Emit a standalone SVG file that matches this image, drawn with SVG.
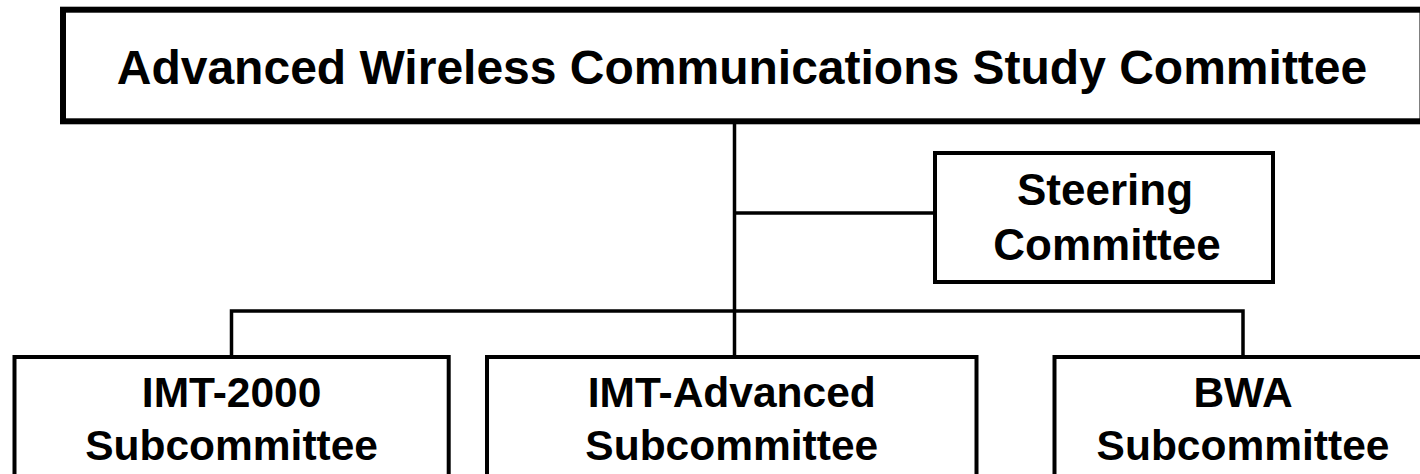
<svg xmlns="http://www.w3.org/2000/svg" width="1420" height="474" viewBox="0 0 1420 474">
  <style>
    .box { fill: #ffffff; stroke: #000000; stroke-width: 4; }
    .top { stroke-width: 6; }
    .lbl { font-family: "Liberation Sans", Arial, sans-serif; font-weight: bold; fill: #000000; text-anchor: middle; }
    .conn { stroke: #000000; stroke-width: 3.5; fill: none; }
  </style>
  <rect x="0" y="0" width="1420" height="474" fill="#ffffff"/>
  <g id="connectors">
    <line class="conn" x1="734.5" y1="122" x2="734.5" y2="357"/>
    <line class="conn" x1="734.5" y1="213" x2="935" y2="213"/>
    <polyline class="conn" points="231.5,357 231.5,311 1243,311 1243,357"/>
  </g>
  <g id="node-main">
    <rect class="box top" x="63" y="9.7" width="1359.5" height="111.6"/>
    <text class="lbl" x="742" y="83.5" font-size="48">Advanced Wireless Communications Study Committee</text>
  </g>
  <g id="node-steering">
    <rect class="box" x="935" y="153" width="338" height="129"/>
    <text class="lbl" x="1105" y="205" font-size="44">Steering</text>
    <text class="lbl" x="1107" y="260" font-size="44">Committee</text>
  </g>
  <g id="node-imt2000">
    <rect class="box" x="14.5" y="357" width="434.2" height="140"/>
    <text class="lbl" x="231.6" y="407.3" font-size="42.5">IMT-2000</text>
    <text class="lbl" x="231.6" y="460" font-size="42.5">Subcommittee</text>
  </g>
  <g id="node-imtadv">
    <rect class="box" x="487" y="357" width="489.5" height="140"/>
    <text class="lbl" x="731.75" y="407.3" font-size="42.5">IMT-Advanced</text>
    <text class="lbl" x="731.75" y="460" font-size="42.5">Subcommittee</text>
  </g>
  <g id="node-bwa">
    <rect class="box" x="1054.5" y="357" width="377" height="140"/>
    <text class="lbl" x="1243" y="407.3" font-size="42.5">BWA</text>
    <text class="lbl" x="1243" y="460" font-size="42.5">Subcommittee</text>
  </g>
</svg>
